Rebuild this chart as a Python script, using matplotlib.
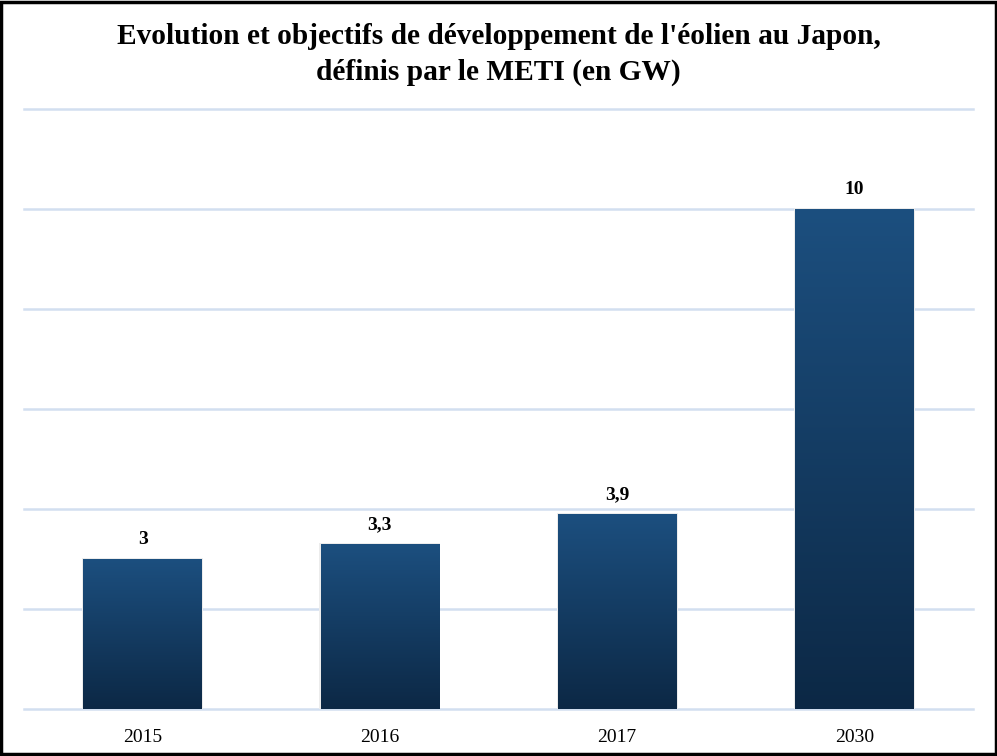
import numpy as np
import matplotlib.pyplot as plt
from matplotlib.colors import LinearSegmentedColormap
from matplotlib.patches import Rectangle

# donnees
annees = ["2015", "2016", "2017", "2030"]
puissance = [3, 3.3, 3.9, 10]
etiquettes = ["3", "3,3", "3,9", "10"]

plt.rcParams['font.family'] = ['Liberation Serif', 'DejaVu Serif']

fig = plt.figure(figsize=(9.97, 7.56), dpi=100)
ax = fig.add_axes([24/997, 47/756, 949/997, 600/756])

x = np.arange(len(annees))
bars = ax.bar(x, puissance, width=0.5, color='none', linewidth=0, zorder=3)

# degrade vertical dans chaque barre
cmap = LinearSegmentedColormap.from_list("bleu", ["#0c2845", "#1c4f7f"])
grad = np.linspace(0, 1, 256).reshape(-1, 1)
for b in bars:
    x0, w, h = b.get_x(), b.get_width(), b.get_height()
    # ombre legere
    ax.add_patch(Rectangle((x0 - 0.005, 0), w + 0.01, h + 0.02,
                           facecolor='#ececec', edgecolor='none', zorder=2))
    ax.imshow(grad, cmap=cmap, extent=[x0, x0 + w, 0, h], origin='lower',
              aspect='auto', zorder=3, interpolation='bilinear')

for xi, v, t in zip(x, puissance, etiquettes):
    ax.text(xi, v + 0.22, t, ha='center', va='bottom', fontsize=14,
            fontweight='bold')

ax.set_xlim(-0.5, 3.5)
ax.set_ylim(0, 12)
ax.set_yticks(np.arange(0, 13, 2))
ax.yaxis.grid(True, color='#d2dff0', linewidth=1.8, zorder=0)
ax.set_axisbelow(True)
for gl in ax.get_ygridlines():
    gl.set_clip_on(False)
ax.tick_params(axis='y', left=False, labelleft=False)
ax.tick_params(axis='x', bottom=False, labelsize=14, pad=11)
ax.set_xticks(x)
ax.set_xticklabels(annees)
for s in ax.spines.values():
    s.set_visible(False)

fig.text(0.5, 1 - 37/756, "Evolution et objectifs de développement de l'éolien au Japon,",
         ha='center', va='center', fontsize=21.2, fontweight='bold')
fig.text(0.5, 1 - 72/756, "définis par le METI (en GW)",
         ha='center', va='center', fontsize=21.2, fontweight='bold')

# cadre noir
fig.patches.append(Rectangle((0.0015, 0.002), 0.997, 0.996, transform=fig.transFigure,
                             fill=False, edgecolor='black', linewidth=2.5))

fig.savefig("out.png", dpi=100)
